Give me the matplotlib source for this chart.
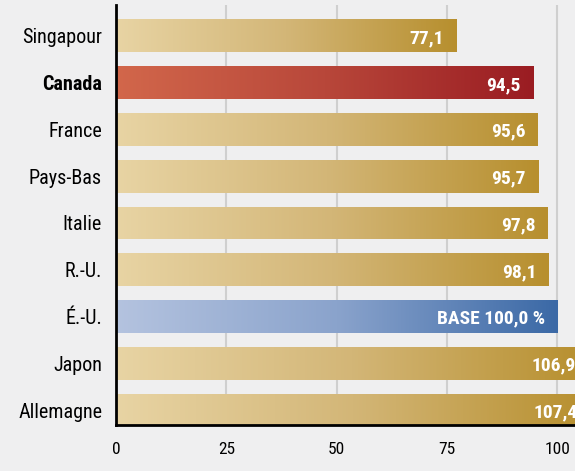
import numpy as np
import matplotlib
matplotlib.use("Agg")
import matplotlib.pyplot as plt
from matplotlib.colors import LinearSegmentedColormap
from matplotlib import font_manager

countries = ["Singapour", "Canada", "France", "Pays-Bas", "Italie", "R.-U.", "É.-U.", "Japon", "Allemagne"]
values = [77.1, 94.5, 95.6, 95.7, 97.8, 98.1, 100.0, 106.9, 107.4]
value_labels = ["77,1", "94,5", "95,6", "95,7", "97,8", "98,1", "BASE 100,0 %", "106,9", "107,4"]
xticks = [0, 25, 50, 75, 100]

# pick a condensed font if one is installed
fl = font_manager.fontManager.ttflist
names = {f.name for f in fl}
fam_name = None
stretch = "normal"
for cand in ["Liberation Sans Narrow", "Roboto Condensed", "Open Sans Condensed", "Arial Narrow"]:
    if cand in names:
        fam_name = cand
        break
if fam_name is None:
    cond = [f for f in fl if f.name == "DejaVu Sans" and "ondensed" in f.fname]
    fam_name = "DejaVu Sans"
    if cond:
        stretch = "condensed"
fam = [fam_name, "DejaVu Sans"]

bg = "#efeff0"
fig = plt.figure(figsize=(5.75, 4.71), dpi=100, facecolor=bg)
ax = fig.add_axes([116/575, 46/471, (575-116)/575, 420/471])
ax.set_facecolor(bg)

gold = LinearSegmentedColormap.from_list("gold", ["#e8d4a4", "#d3b677", "#b78f2e"])
red = LinearSegmentedColormap.from_list("red", ["#d2674b", "#b8473a", "#9a1c22"])
blue = LinearSegmentedColormap.from_list("blue", ["#b4c3df", "#8aa3cc", "#3b69a6"])
cmaps = [gold, red, gold, gold, gold, gold, blue, gold, gold]

ypos = np.arange(len(countries))
h = 0.7
grad = np.linspace(0, 1, 256).reshape(1, -1)
for i, (y, v) in enumerate(zip(ypos, values)):
    bar = ax.barh(y, v, height=h, color="none", zorder=2)[0]
    im = ax.imshow(grad, cmap=cmaps[i], aspect="auto",
                   extent=(0, v, y + h/2, y - h/2), zorder=2)
    im.set_clip_path(bar)
    ax.text(v - 2.8, y + 0.05, value_labels[i], ha="right", va="center",
            color="white", fontsize=14, fontweight="bold", family=fam,
            fontstretch=stretch, zorder=3)

ax.set_xlim(0, 104)
ax.set_ylim(8.32, -0.66)
ax.set_yticks(ypos)
ax.set_yticklabels(countries, fontsize=14.5, family=fam, fontstretch=stretch)
for lbl in ax.get_yticklabels():
    if lbl.get_text() == "Canada":
        lbl.set_fontweight("bold")
ax.set_xticks(xticks)
ax.set_xticklabels([str(t) for t in xticks], fontsize=12.5, family=fam, fontstretch=stretch)
ax.tick_params(axis="both", length=0)
ax.tick_params(axis="x", pad=12)
ax.tick_params(axis="y", pad=10)
ax.grid(axis="x", color="#cfcfcf", linewidth=1.5, zorder=0)
ax.set_axisbelow(True)
for s in ["top", "right"]:
    ax.spines[s].set_visible(False)
ax.spines["left"].set_linewidth(2)
ax.spines["bottom"].set_linewidth(2)
ax.spines["left"].set_zorder(4)

fig.savefig("out.png", dpi=100, facecolor=bg)
